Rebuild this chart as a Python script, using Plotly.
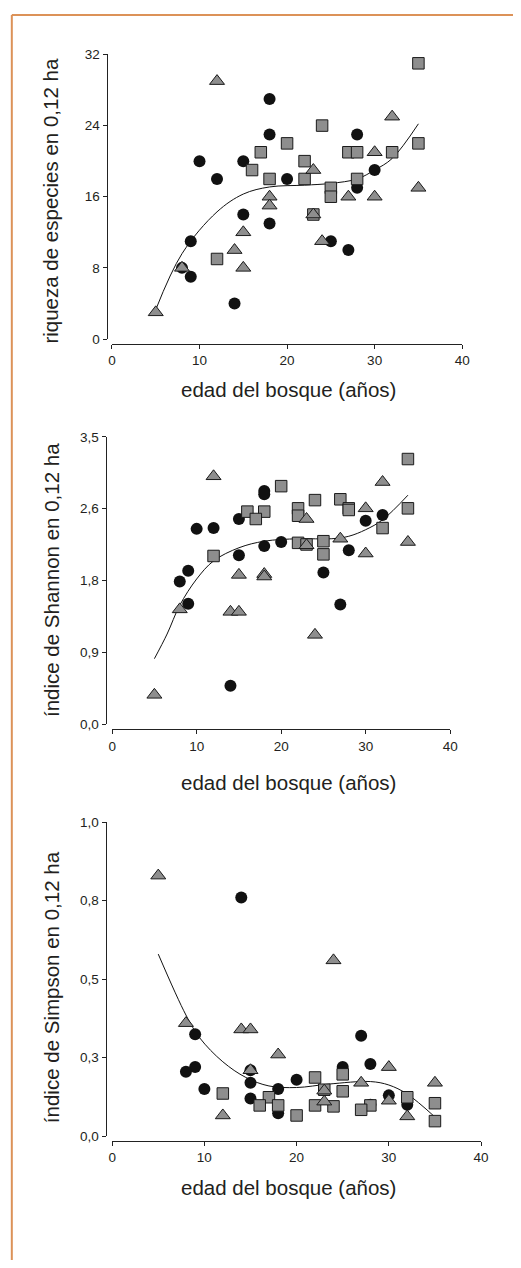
import plotly.graph_objects as go

W, H = 521, 1268

# ---------------- data ----------------
# Panel 1: riqueza de especies
circ_x1 = [18, 18, 28, 10, 15, 12, 20, 30, 28, 15, 18, 9, 25, 27, 8, 9, 14]
circ_y1 = [27, 23, 23, 20, 20, 18, 18, 19, 17, 14, 13, 11, 11, 10, 8, 7, 4]
sq_x1 = [35, 24, 20, 35, 17, 27, 28, 32, 22, 16, 18, 22, 28, 25, 25, 23, 12]
sq_y1 = [31, 24, 22, 22, 21, 21, 21, 21, 20, 19, 18, 18, 18, 17, 16, 14, 9]
tri_x1 = [12, 32, 30, 23, 18, 18, 27, 30, 35, 23, 15, 14, 15, 24, 8, 5]
tri_y1 = [29, 25, 21, 19, 16, 15, 16, 16, 17, 14, 12, 10, 8, 11, 8, 3]
fit_x1 = [5, 8, 12, 15, 18, 22, 25, 28, 30, 32, 35]
fit_y1 = [3.3, 9.6, 14.3, 16.3, 17.1, 17.3, 17.5, 18.0, 19.0, 20.3, 24.2]

# Panel 2: índice de Shannon
circ_x2 = [18, 18, 15, 32, 30, 10, 12, 20, 18, 28, 15, 25, 9, 8, 9, 27, 14]
circ_y2 = [2.84, 2.80, 2.50, 2.55, 2.48, 2.38, 2.39, 2.22, 2.17, 2.12, 2.06, 1.85, 1.87, 1.74, 1.47, 1.46, 0.47]
sq_x2 = [35, 20, 24, 27, 28, 28, 22, 22, 35, 16, 18, 17, 32, 22, 23, 25, 25, 12]
sq_y2 = [3.23, 2.90, 2.73, 2.74, 2.63, 2.61, 2.63, 2.54, 2.63, 2.59, 2.59, 2.50, 2.39, 2.21, 2.19, 2.23, 2.07, 2.05]
tri_x2 = [12, 32, 30, 23, 35, 27, 23, 30, 15, 18, 18, 8, 14, 15, 24, 5]
tri_y2 = [3.02, 2.95, 2.63, 2.50, 2.22, 2.26, 2.18, 2.08, 1.82, 1.83, 1.80, 1.40, 1.37, 1.37, 1.09, 0.36]
fit_x2 = [5, 6.5, 8, 10, 12, 15, 18, 22, 26, 28, 30, 32, 35]
fit_y2 = [0.80, 1.10, 1.45, 1.77, 1.99, 2.15, 2.23, 2.26, 2.26, 2.29, 2.37, 2.49, 2.79]

# Panel 3: índice de Simpson
circ_x3 = [14, 27, 9, 28, 25, 9, 8, 15, 15, 20, 10, 18, 15, 30, 32, 28, 18]
circ_y3 = [0.76, 0.32, 0.325, 0.23, 0.22, 0.22, 0.205, 0.21, 0.17, 0.18, 0.15, 0.15, 0.12, 0.13, 0.10, 0.10, 0.073]
sq_x3 = [25, 22, 12, 25, 23, 17, 16, 18, 22, 24, 28, 27, 32, 35, 20, 35]
sq_y3 = [0.197, 0.187, 0.136, 0.143, 0.148, 0.124, 0.098, 0.098, 0.098, 0.095, 0.098, 0.084, 0.124, 0.105, 0.066, 0.048]
tri_x3 = [5, 24, 8, 14, 15, 18, 15, 30, 27, 35, 23, 23, 30, 12, 32]
tri_y3 = [0.83, 0.56, 0.36, 0.34, 0.34, 0.26, 0.21, 0.22, 0.17, 0.17, 0.145, 0.11, 0.113, 0.066, 0.063]
fit_x3 = [5, 8, 9.5, 12, 14.5, 17, 20, 23.5, 28, 30, 32, 35]
fit_y3 = [0.58, 0.386, 0.313, 0.237, 0.187, 0.16, 0.155, 0.166, 0.174, 0.163, 0.134, 0.061]

x_ticks = [0, 10, 20, 30, 40]
y_ticks1 = [0, 8, 16, 24, 32]
y_text1 = ["0", "8", "16", "24", "32"]
y_ticks2 = [0, 0.875, 1.75, 2.625, 3.5]
y_text2 = ["0,0", "0,9", "1,8", "2,6", "3,5"]
y_ticks3 = [0, 0.25, 0.5, 0.75, 1.0]
y_text3 = ["0,0", "0,3", "0,5", "0,8", "1,0"]

y_titles = ["riqueza de especies en 0,12 ha", "índice de Shannon en 0,12 ha", "índice de Simpson en 0,12 ha"]
x_title = "edad del bosque (años)"

# ---------------- styling ----------------
GREY = "#8e8e8e"
EDGE = "#1a1a1a"
TXT = "#231f20"
FONT = "Liberation Sans, Arial, sans-serif"

def px(x):
    return x / W

def py(y):
    return 1 - y / H

# pixel geometry per panel: (x0px, x40px, ybottom_px, ytop_px, xaxis_line_y, yaxis_line_x, xtitle_y, ytitle_center)
geo = [
    (110.5, 469.0, 336.0, 48.0, 341.0, 105.0, 387.0, 196.0),
    (110.7, 456.7, 726.0, 435.0, 731.0, 104.0, 785.0, 580.0),
    (110.7, 488.3, 1142.7, 825.0, 1147.7, 104.0, 1195.0, 992.0),
]

panels = [
    (circ_x1, circ_y1, sq_x1, sq_y1, tri_x1, tri_y1, fit_x1, fit_y1, [0, 32], y_ticks1, y_text1),
    (circ_x2, circ_y2, sq_x2, sq_y2, tri_x2, tri_y2, fit_x2, fit_y2, [0, 3.5], y_ticks2, y_text2),
    (circ_x3, circ_y3, sq_x3, sq_y3, tri_x3, tri_y3, fit_x3, fit_y3, [0, 1.0], y_ticks3, y_text3),
]

fig = go.Figure()
layout = dict(
    width=W, height=H,
    margin=dict(l=0, r=0, t=0, b=0),
    paper_bgcolor="white", plot_bgcolor="white",
    showlegend=False,
    font=dict(family=FONT, color=TXT),
)
annotations = []

for i, (cx, cy, sx, sy, tx, ty, fx, fy, yr, yt, ytt) in enumerate(panels):
    n = "" if i == 0 else str(i + 1)
    xa, ya = "x" + n, "y" + n
    x0, x1, yb, ytp, xl, yl, xtt, ytc = geo[i]

    fig.add_trace(go.Scatter(x=fx, y=fy, mode="lines", line=dict(color="#111", width=1, shape="spline", smoothing=1.0),
                             xaxis=xa, yaxis=ya, hoverinfo="skip", cliponaxis=False))
    fig.add_trace(go.Scatter(x=cx, y=cy, mode="markers", xaxis=xa, yaxis=ya, cliponaxis=False,
                             marker=dict(symbol="circle", size=12, color="#111111", line=dict(color="#111", width=0))))
    fig.add_trace(go.Scatter(x=sx, y=sy, mode="markers", xaxis=xa, yaxis=ya, cliponaxis=False,
                             marker=dict(symbol="square", size=11.5, color=GREY, line=dict(color=EDGE, width=1))))
    fig.add_trace(go.Scatter(x=tx, y=ty, mode="markers", xaxis=xa, yaxis=ya, cliponaxis=False,
                             marker=dict(symbol="triangle-up", size=13, color=GREY, line=dict(color=EDGE, width=1))))

    layout["xaxis" + n] = dict(
        domain=[px(x0), px(x1)], range=[0, 40], anchor="free", position=py(xl),
        tickvals=x_ticks, ticks="outside", ticklen=4, tickwidth=1, tickcolor="#222",
        showline=True, linecolor="#222", linewidth=1, showgrid=False, zeroline=False,
        tickfont=dict(size=13.5, color=TXT, family=FONT), fixedrange=True,
    )
    layout["yaxis" + n] = dict(
        domain=[py(yb), py(ytp)], range=yr, anchor="free", position=px(yl),
        tickvals=yt, ticktext=ytt, ticks="outside", ticklen=4, tickwidth=1, tickcolor="#222",
        showline=True, linecolor="#222", linewidth=1, showgrid=False, zeroline=False,
        tickfont=dict(size=13.5, color=TXT, family=FONT), fixedrange=True,
    )
    annotations.append(dict(text=x_title, xref="paper", yref="paper", x=px(291), y=py(xtt),
                            showarrow=False, xanchor="center", yanchor="middle",
                            font=dict(size=20.5, color=TXT, family=FONT)))
    annotations.append(dict(text=y_titles[i], xref="paper", yref="paper", x=px(48), y=py(ytc),
                            showarrow=False, xanchor="center", yanchor="middle", textangle=-90,
                            font=dict(size=20.5, color=TXT, family=FONT)))

layout["annotations"] = annotations
layout["shapes"] = [
    dict(type="line", xref="paper", yref="paper", x0=px(8), x1=1, y0=py(8), y1=py(8),
         line=dict(color="#dc9258", width=2)),
    dict(type="line", xref="paper", yref="paper", x0=px(8), x1=px(8), y0=py(8), y1=0,
         line=dict(color="#dc9258", width=2)),
]
fig.update_layout(**layout)
fig.write_html("out.html")
